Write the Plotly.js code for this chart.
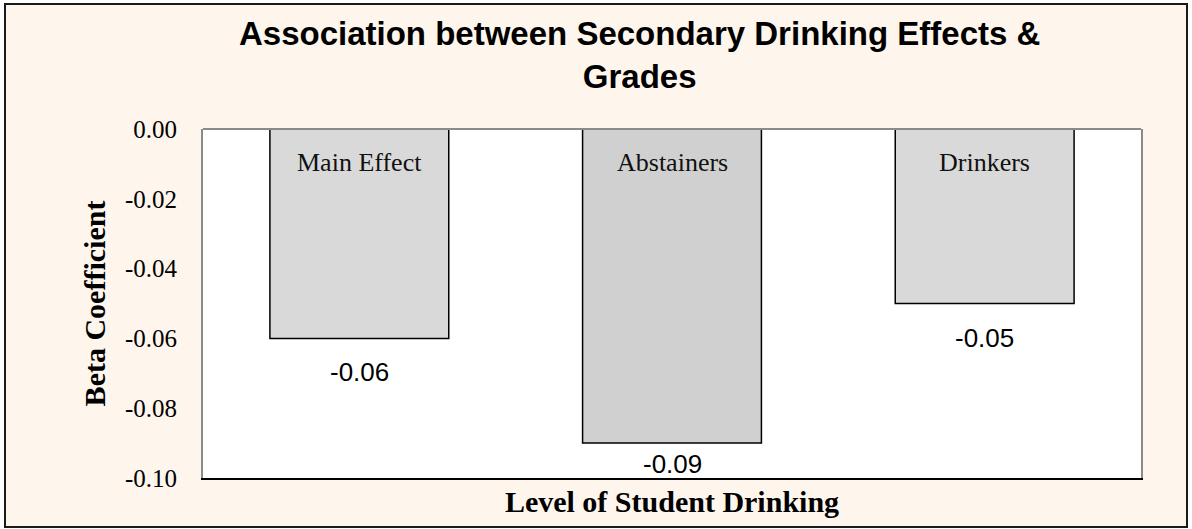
<!DOCTYPE html>
<html>
<head>
<meta charset="utf-8">
<script src="https://cdn.plot.ly/plotly-3.0.1.min.js"></script>
<style>
  html, body { margin: 0; padding: 0; background: #ffffff; }
  #frame { position: absolute; left: 4px; top: 3px; width: 1180px; height: 521px; border: 2px solid #1a1a1a; }
  #chart { width: 1180px; height: 521px; }
</style>
</head>
<body>
<div id="frame"><div id="chart"></div></div>
<script>
// ---- data ----
const categories = ["Main Effect", "Abstainers", "Drinkers"];
const betaValues = [-0.06, -0.09, -0.05];
const yTickValues = [0, -0.02, -0.04, -0.06, -0.08, -0.10];
const yTickLabels = ["0.00", "-0.02", "-0.04", "-0.06", "-0.08", "-0.10"];

// ---- styles ----
const barColors = ["#d9d9d9", "#d0d0d0", "#d9d9d9"];
const valueLabelShift = [-34, -21, -34];

const serif = "Liberation Serif";
const sans = "Liberation Sans";

const trace = {
  type: "bar",
  x: categories,
  y: betaValues,
  marker: { color: barColors, line: { color: "#000000", width: 1.5 } },
  hoverinfo: "x+y",
  showlegend: false
};

const annotations = [];
categories.forEach(function (c, i) {
  annotations.push({
    x: c, y: 0, xref: "x", yref: "y",
    text: c, showarrow: false, yanchor: "middle", yshift: -33,
    font: { family: serif, size: 26, color: "#111111" }
  });
  annotations.push({
    x: c, y: betaValues[i], xref: "x", yref: "y",
    text: betaValues[i].toFixed(2), showarrow: false, yanchor: "middle", yshift: valueLabelShift[i],
    font: { family: sans, size: 26, color: "#000000" }
  });
});

const layout = {
  width: 1180,
  height: 521,
  font: { family: serif, size: 24, color: "#000000" },
  paper_bgcolor: "#fef5ec",
  plot_bgcolor: "#ffffff",
  margin: { l: 197, r: 45, t: 124, b: 48 },
  bargap: 0.428,
  title: {
    text: "Association between Secondary Drinking Effects &<br>Grades",
    x: 0.537, xref: "container", xanchor: "center",
    y: 0.923, yref: "container", yanchor: "top",
    font: { family: sans, size: 33, color: "#000000", weight: "bold" }
  },
  xaxis: {
    type: "category",
    showticklabels: false,
    ticks: "",
    showgrid: false,
    zeroline: false,
    showline: true,
    linecolor: "#000000",
    linewidth: 2,
    title: { text: "Level of Student Drinking", standoff: 12, font: { family: serif, size: 30, color: "#000000", weight: "bold" } }
  },
  yaxis: {
    range: [-0.1, 0],
    tickmode: "array",
    tickvals: yTickValues,
    ticktext: yTickLabels,
    ticks: "outside",
    ticklen: 19,
    tickcolor: "rgba(0,0,0,0)",
    tickfont: { family: serif, size: 25, color: "#000000" },
    showgrid: false,
    zeroline: false,
    showline: true,
    mirror: true,
    linecolor: "#8a8a8a",
    linewidth: 2,
    title: { text: "Beta Coefficient", standoff: 10, font: { family: serif, size: 30, color: "#000000", weight: "bold" } }
  },
  shapes: [
    { type: "line", xref: "paper", yref: "paper", x0: 0, x1: 1, y0: 1, y1: 1, line: { color: "#8a8a8a", width: 2 } }
  ],
  annotations: annotations
};

Plotly.newPlot("chart", [trace], layout, { displayModeBar: false, staticPlot: true });
</script>
</body>
</html>
